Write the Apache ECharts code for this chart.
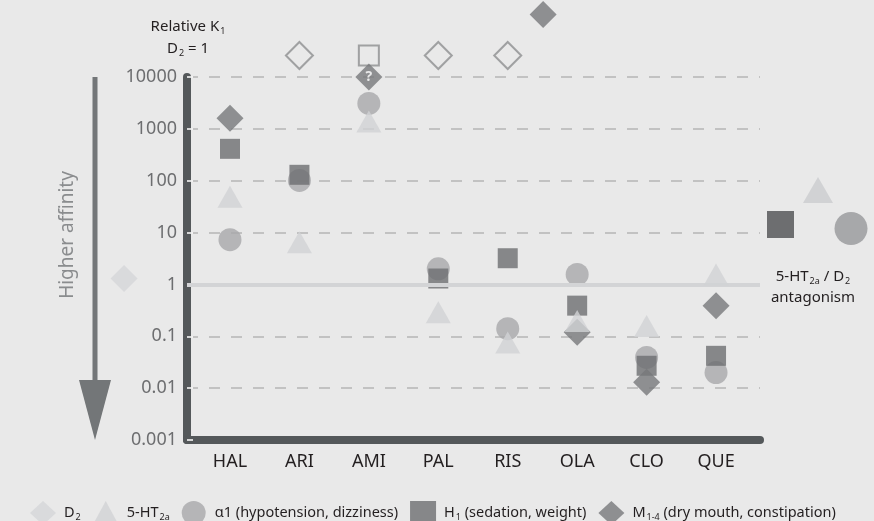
<!DOCTYPE html>
<html>
<head>
<meta charset="utf-8">
<script src="https://cdn.jsdelivr.net/npm/echarts@6/dist/echarts.min.js"></script>
<style>
  html, body { margin: 0; padding: 0; background: #e9e9e9; }
  #chart { width: 874px; height: 521px; }
</style>
</head>
<body>
<div id="chart"></div>
<script>
var categories = ['HAL', 'ARI', 'AMI', 'PAL', 'RIS', 'OLA', 'CLO', 'QUE'];
var yTicks = ['0.001', '0.01', '0.1', '1', '10', '100', '1000', '10000'];
// relative Ki, D2 = 1 (null = not shown)
var ht2a = [49, 6.5, 1380, 0.29, 0.076, 0.197, 0.158, 1.56];
var alpha1 = [7.3, 101, 3100, 2.0, 0.14, 1.56, 0.039, 0.020];
var h1 = [412, 130, null, 1.3, 3.2, 0.39, 0.027, 0.042];
var m14 = [1600, null, 10000, null, null, 0.12, 0.013, 0.39];
// open markers above the top of the scale (>10000)
var m14Open = [null, 26000, null, 26000, 26000, null, null, null];
var h1Open = [null, null, 26000, null, null, null, null, null];
var d2Ref = [[-1.525, 1.3]];
var m14Extra = [[4.51, 160000]];

var font = 'Noto Sans';
var subRich = {
    sub: { fontSize: 9, padding: [9, 0, 0, 1], fontFamily: font, color: '#231f20' }
};

function pts(arr) {
    var out = [];
    arr.forEach(function (v, i) { if (v !== null) out.push([i, v]); });
    return out;
}

var openStyle = { color: 'rgba(0,0,0,0)', borderColor: '#8d8e90', borderWidth: 2 };

var mData = pts(m14).map(function (p) {
    if (p[0] === 2) {
        return { value: p, label: { show: true, formatter: '?', color: '#fff', fontSize: 14, fontWeight: 'bold', fontFamily: font } };
    }
    return p;
});
pts(m14Open).forEach(function (p) { mData.push({ value: p, itemStyle: openStyle }); });
m14Extra.forEach(function (p) { mData.push(p); });

var hData = pts(h1);
pts(h1Open).forEach(function (p) { hData.push({ value: p, itemStyle: openStyle, symbolSize: 20 }); });

var chart = echarts.init(document.getElementById('chart'));
var option = {
    backgroundColor: '#e9e9e9',
    animation: false,
    textStyle: { fontFamily: font },
    grid: { left: 187, right: 114, top: 77, bottom: 81 },
    xAxis: {
        type: 'value',
        min: -0.619,
        max: 7.633,
        axisLine: { show: true, onZero: false, lineStyle: { color: '#54585a', width: 8 } },
        axisTick: { show: false },
        splitLine: { show: false },
        axisLabel: {
            customValues: [0, 1, 2, 3, 4, 5, 6, 7],
            formatter: function (v) { return categories[Math.round(v)]; },
            color: '#231f20',
            fontSize: 18,
            margin: 13
        }
    },
    yAxis: {
        type: 'log',
        logBase: 10,
        min: 0.001,
        max: 10000,
        axisLine: { show: true, onZero: false, lineStyle: { color: '#54585a', width: 8 } },
        axisTick: { show: true, inside: true, length: 6, lineStyle: { color: '#ffffff', width: 1.5 } },
        axisLabel: {
            color: '#6d6e70',
            fontSize: 18,
            margin: 10,
            formatter: function (v) { return yTicks[Math.round(Math.log10(v)) + 3]; }
        },
        splitLine: { show: true, lineStyle: { type: [11, 11], color: '#b5b5b5', width: 1.5 } }
    },
    legend: {
        left: 25,
        top: 496,
        itemWidth: 26,
        itemHeight: 24,
        itemGap: 12,
        data: ['D2', '5-HT2a', 'α1 (hypotension, dizziness)', 'H1 (sedation, weight)', 'M1-4 (dry mouth, constipation)'],
        formatter: function (name) {
            if (name === 'D2') return 'D{sub|2}';
            if (name === '5-HT2a') return '5-HT{sub|2a}';
            if (name.indexOf('H1') === 0) return 'H{sub|1} (sedation, weight)';
            if (name.indexOf('M1-4') === 0) return 'M{sub|1-4} (dry mouth, constipation)';
            return name;
        },
        textStyle: { fontSize: 14.5, color: '#231f20', fontFamily: font, padding: [0, 0, 0, 3], rich: subRich }
    },
    series: [
        {
            type: 'scatter', name: 'ref1', data: [], z: 1, silent: true,
            markLine: {
                silent: true, symbol: 'none', label: { show: false },
                lineStyle: { type: 'solid', color: '#d3d4d6', width: 4 },
                data: [{ yAxis: 1 }]
            }
        },
        {
            type: 'scatter', name: 'D2', symbol: 'diamond', symbolSize: 27, z: 2, clip: false,
            itemStyle: { color: '#d5d6d8' },
            data: d2Ref
        },
        {
            type: 'scatter', name: 'α1 (hypotension, dizziness)', symbol: 'circle', symbolSize: 23, z: 3, clip: false,
            itemStyle: { color: '#a7a8aa' },
            data: pts(alpha1)
        },
        {
            type: 'scatter', name: 'H1 (sedation, weight)', symbol: 'rect', symbolSize: 20, z: 4, clip: false,
            itemStyle: { color: '#6d6e70' },
            data: hData
        },
        {
            type: 'scatter', name: 'M1-4 (dry mouth, constipation)', symbol: 'diamond', symbolSize: 27, z: 5, clip: false,
            itemStyle: { color: '#77787a' },
            data: mData
        },
        {
            type: 'scatter', name: '5-HT2a', symbol: 'triangle', symbolSize: [25, 22], z: 6, clip: false,
            itemStyle: { color: '#d1d2d4' },
            data: pts(ht2a)
        }
    ],
    graphic: [
        {
            type: 'text',
            style: {
                x: 188, y: 27, text: 'Relative K{sub|1}', textAlign: 'center', textVerticalAlign: 'middle',
                fontSize: 15, fontFamily: font, fill: '#231f20', rich: subRich
            }
        },
        {
            type: 'text',
            style: {
                x: 188, y: 49, text: 'D{sub|2} = 1', textAlign: 'center', textVerticalAlign: 'middle',
                fontSize: 15, fontFamily: font, fill: '#231f20', rich: subRich
            }
        },
        { type: 'rect', shape: { x: 92.5, y: 77, width: 5, height: 305 }, style: { fill: '#737678' } },
        { type: 'polygon', shape: { points: [[79, 380], [111, 380], [95, 440]] }, style: { fill: '#737678' } },
        {
            type: 'text', x: 68, y: 235, rotation: Math.PI / 2,
            style: {
                x: 0, y: 0, text: 'Higher affinity', textAlign: 'center', textVerticalAlign: 'middle',
                fontSize: 19, fontFamily: font, fill: '#8a8c8e'
            }
        },
        { type: 'polygon', shape: { points: [[803, 203], [833, 203], [818, 177]] }, style: { fill: '#d1d2d4' } },
        { type: 'rect', shape: { x: 767, y: 211, width: 27, height: 27 }, style: { fill: '#6d6e70' } },
        { type: 'circle', shape: { cx: 851, cy: 228.5, r: 16.5 }, style: { fill: '#a7a8aa' } },
        {
            type: 'text',
            style: {
                x: 813, y: 277, text: '5-HT{sub|2a} / D{sub|2}', textAlign: 'center', textVerticalAlign: 'middle',
                fontSize: 15, fontFamily: font, fill: '#231f20', rich: subRich
            }
        },
        {
            type: 'text',
            style: {
                x: 813, y: 298, text: 'antagonism', textAlign: 'center', textVerticalAlign: 'middle',
                fontSize: 15, fontFamily: font, fill: '#231f20'
            }
        }
    ]
};
chart.setOption(option);
</script>
</body>
</html>
